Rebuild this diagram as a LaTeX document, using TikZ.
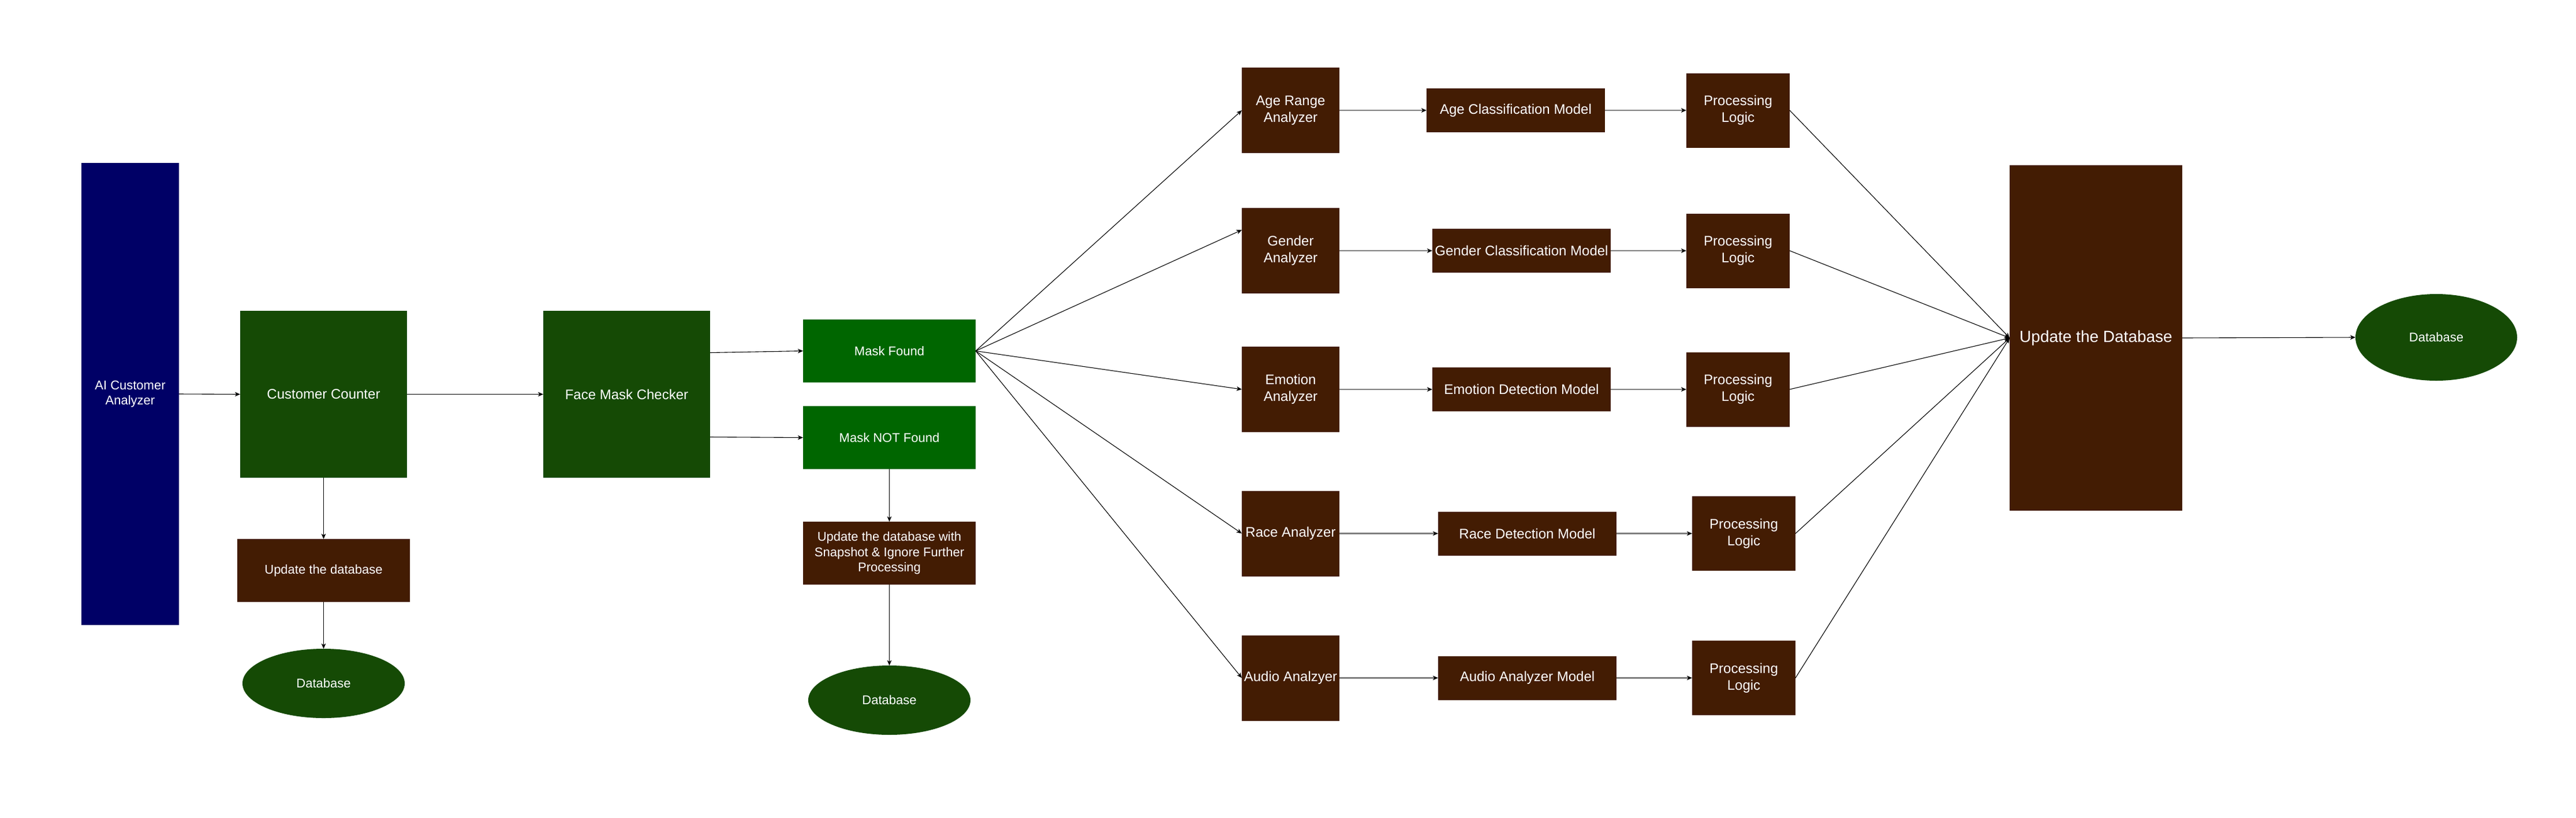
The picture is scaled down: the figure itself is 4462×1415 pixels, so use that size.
\documentclass[tikz,border=0pt]{standalone}
\usepackage{fontspec}
\setmainfont{Liberation Sans}
\usetikzlibrary{arrows.meta,calc,shapes.geometric}
\definecolor{navybox}{HTML}{000066}
\definecolor{dgreen}{HTML}{154A05}
\definecolor{lgreen}{HTML}{006600}
\definecolor{bbrown}{HTML}{431C03}
\definecolor{lgray}{HTML}{808080}
\begin{document}
\begin{tikzpicture}[x=0.5pt,y=-0.5pt,
  blk/.style={rectangle, fill=#1, draw=none, text=white, align=center, inner sep=0pt, outer sep=0pt},
  sz/.style n args={2}{minimum width={#1*0.5pt}, minimum height={#2*0.5pt}},
  f22/.style={font=\fontsize{11pt}{13.2pt}\selectfont},
  f24/.style={font=\fontsize{12pt}{14.4pt}\selectfont},
  f28/.style={font=\fontsize{14pt}{16.8pt}\selectfont},
  dbell/.style={ellipse, fill=dgreen, draw=none, text=white, inner sep=0pt, outer sep=0pt, f22},
  arr/.style={draw=black, line width=0.55pt, -{Stealth[length=4.5pt,width=3.8pt,inset=1.2pt]}},
  garr/.style={draw=lgray, line width=1.1pt, -{Stealth[length=4.5pt,width=3.8pt,inset=1.2pt,color=black]}}
]
\useasboundingbox[fill=white] (0,0) rectangle (4462,1415);

% left part
\node[blk=navybox, sz={169}{800}, f22] (ai) at (225.5,682) {AI Customer\\Analyzer};
\node[blk=dgreen, sz={289}{289}, f24] (cc) at (560.5,682.5) {Customer Counter};
\node[blk=dgreen, sz={289}{289}, f24] (fmc) at (1085.5,682.5) {Face Mask Checker};
\node[blk=bbrown, sz={299}{109}, f22] (upd1) at (560.5,987.5) {Update the database};
\node[dbell, sz={281}{120}] (db1) at (560.5,1183) {Database};

\node[blk=lgreen, sz={299}{109}, f22] (mf) at (1540.5,607.5) {Mask Found};
\node[blk=lgreen, sz={299}{109}, f22] (mnf) at (1540.5,757.5) {Mask NOT Found};
\node[blk=bbrown, sz={299}{109}, f22] (snap) at (1540.5,957.5) {Update the database with\\Snapshot \& Ignore Further\\Processing};
\node[dbell, sz={281}{120}] (db2) at (1540.5,1212) {Database};

% analyzers
\node[blk=bbrown, sz={169}{148}, f24] (aa) at (2235.5,191) {Age Range\\Analyzer};
\node[blk=bbrown, sz={169}{148}, f24] (ga) at (2235.5,434) {Gender\\Analyzer};
\node[blk=bbrown, sz={169}{148}, f24] (ea) at (2235.5,674) {Emotion\\Analyzer};
\node[blk=bbrown, sz={169}{148}, f24] (ra) at (2235.5,923.5) {Race Analyzer};
\node[blk=bbrown, sz={169}{148}, f24] (au) at (2235.5,1173.5) {Audio Analzyer};

% models
\node[blk=bbrown, sz={309}{76}, f24] (am) at (2625.5,191) {Age Classification Model};
\node[blk=bbrown, sz={309}{76}, f24] (gm) at (2635.5,434) {Gender Classification Model};
\node[blk=bbrown, sz={309}{76}, f24] (em) at (2635.5,674) {Emotion Detection Model};
\node[blk=bbrown, sz={309}{76}, f24] (rm) at (2645.5,923.5) {Race Detection Model};
\node[blk=bbrown, sz={309}{76}, f24] (um) at (2645.5,1173.5) {Audio Analyzer Model};

% processing logic
\node[blk=bbrown, sz={179}{129}, f24] (pl1) at (3010.5,191) {Processing\\Logic};
\node[blk=bbrown, sz={179}{129}, f24] (pl2) at (3010.5,434) {Processing\\Logic};
\node[blk=bbrown, sz={179}{129}, f24] (pl3) at (3010.5,674) {Processing\\Logic};
\node[blk=bbrown, sz={179}{129}, f24] (pl4) at (3020.5,923.5) {Processing\\Logic};
\node[blk=bbrown, sz={179}{129}, f24] (pl5) at (3020.5,1173.5) {Processing\\Logic};

\node[blk=bbrown, sz={299}{598}, f28] (utd) at (3630.5,585) {Update the Database};
\node[dbell, sz={280}{150}] (db3) at (4220,584) {Database};

% connectors
\draw[arr] (ai.east) -- (cc.west);
\draw[arr] (cc.east) -- (fmc.west);
\draw[arr] (cc.south) -- (upd1.north);
\draw[arr] (upd1.south) -- (db1.north);
\draw[arr] ($(fmc.east)+(0,-72)$) -- (mf.west);
\draw[arr] ($(fmc.east)+(0,74)$) -- (mnf.west);
\draw[arr] (mnf.south) -- (snap.north);
\draw[arr] (snap.south) -- (db2.north);

\draw[arr] (mf.east) -- (aa.west);
\draw[arr] (mf.east) -- ($(ga.west)+(0,-36)$);
\draw[arr] (mf.east) -- (ea.west);
\draw[arr] (mf.east) -- (ra.west);
\draw[arr] (mf.east) -- (au.west);

\draw[garr] (aa.east) -- (am.west);
\draw[garr] (ga.east) -- (gm.west);
\draw[garr] (ea.east) -- (em.west);
\draw[garr] (ra.east) -- (rm.west);
\draw[garr] (au.east) -- (um.west);

\draw[garr] (am.east) -- (pl1.west);
\draw[garr] (gm.east) -- (pl2.west);
\draw[garr] (em.east) -- (pl3.west);
\draw[garr] (rm.east) -- (pl4.west);
\draw[garr] (um.east) -- (pl5.west);

\draw[arr] (pl1.east) -- (utd.west);
\draw[arr] (pl2.east) -- (utd.west);
\draw[arr] (pl3.east) -- (utd.west);
\draw[arr] (pl4.east) -- (utd.west);
\draw[arr] (pl5.east) -- (utd.west);

\draw[arr] (utd.east) -- (db3.west);
\end{tikzpicture}
\end{document}
